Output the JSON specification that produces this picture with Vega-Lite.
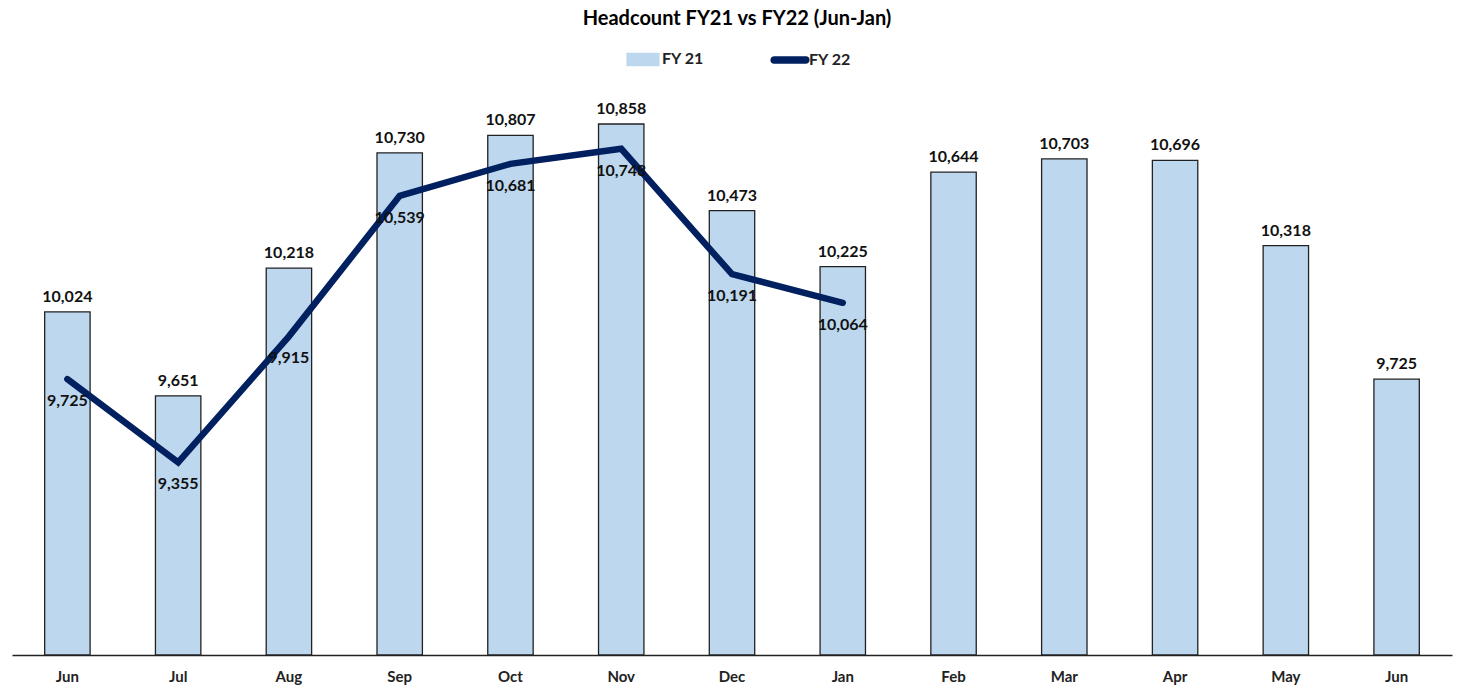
{
  "$schema": "https://vega.github.io/schema/vega-lite/v6.json",
  "width": 1440,
  "height": 563,
  "autosize": {"type": "none"},
  "padding": {"left": 12, "top": 92, "right": 10, "bottom": 33},
  "background": "white",
  "config": {
    "view": {"stroke": null},
    "font": "Lato",
    "legend": {
      "orient": "none",
      "legendX": 614,
      "legendY": -50,
      "direction": "horizontal",
      "symbolSize": 1000,
      "symbolStrokeWidth": 1.5,
      "columnPadding": 64,
      "labelFontSize": 16,
      "labelFontWeight": "bold",
      "labelFont": "Lato",
      "labelColor": "#222222",
      "labelOffset": 2
    }
  },
  "title": {
    "text": "Headcount FY21 vs FY22 (Jun-Jan)",
    "anchor": "middle",
    "fontSize": 20,
    "fontWeight": "bold",
    "color": "#000000",
    "font": "Lato",
    "offset": 13,
    "dx": 5
  },
  "data": {
    "values": [
      {"key": "01 Jun", "fy21": 10024, "fy22": 9725},
      {"key": "02 Jul", "fy21": 9651, "fy22": 9355},
      {"key": "03 Aug", "fy21": 10218, "fy22": 9915},
      {"key": "04 Sep", "fy21": 10730, "fy22": 10539},
      {"key": "05 Oct", "fy21": 10807, "fy22": 10681},
      {"key": "06 Nov", "fy21": 10858, "fy22": 10748},
      {"key": "07 Dec", "fy21": 10473, "fy22": 10191},
      {"key": "08 Jan", "fy21": 10225, "fy22": 10064},
      {"key": "09 Feb", "fy21": 10644, "fy22": null},
      {"key": "10 Mar", "fy21": 10703, "fy22": null},
      {"key": "11 Apr", "fy21": 10696, "fy22": null},
      {"key": "12 May", "fy21": 10318, "fy22": null},
      {"key": "13 Jun", "fy21": 9725, "fy22": null}
    ]
  },
  "encoding": {
    "x": {
      "field": "key",
      "type": "ordinal",
      "sort": null,
      "scale": {"paddingInner": 0.59, "paddingOuter": 0.295},
      "axis": {
        "title": null,
        "labelExpr": "slice(datum.label, 3)",
        "labelAngle": 0,
        "labelFontSize": 15,
        "labelFontWeight": "bold",
        "labelColor": "#222222",
        "labelFont": "Lato",
        "labelPadding": 14,
        "ticks": false,
        "domainColor": "#222222",
        "domainWidth": 1.5
      }
    }
  },
  "layer": [
    {
      "mark": {"type": "bar", "stroke": "#222222", "strokeWidth": 1.3},
      "encoding": {
        "y": {"field": "fy21", "type": "quantitative", "scale": {"domain": [8500, 11000], "zero": false, "nice": false}, "axis": null},
        "y2": {"datum": 8500},
        "color": {
          "datum": "FY 21",
          "scale": {"domain": ["FY 21", "FY 22"], "range": ["#BDD7EE", "#002060"]},
          "legend": {
            "title": null,
            "encode": {
              "symbols": {
                "update": {
                  "shape": {"signal": "datum.value === 'FY 21' ? 'M-1,-0.38H1V0.38H-1Z' : 'M-1,-0.19H1A0.19,0.19 0 0 1 1,0.19H-1A0.19,0.19 0 0 1 -1,-0.19Z'"},
                  "size": {"value": 1000},
                  "strokeWidth": {"value": 1.5},
                  "fill": {"signal": "datum.value === 'FY 21' ? '#BDD7EE' : '#002060'"},
                  "stroke": {"signal": "datum.value === 'FY 21' ? '#222222' : '#002060'"},
                  "opacity": {"value": 1}
                }
              }
            }
          }
        }
      }
    },
    {
      "mark": {"type": "text", "dy": -15, "fontSize": 16, "fontWeight": "bold", "font": "Lato", "color": "#111111"},
      "encoding": {
        "y": {"field": "fy21", "type": "quantitative"},
        "text": {"field": "fy21", "type": "quantitative", "format": ","}
      }
    },
    {
      "transform": [{"filter": "datum.fy22 != null"}],
      "mark": {"type": "line", "strokeWidth": 6.5, "strokeCap": "round", "strokeJoin": "miter"},
      "encoding": {
        "y": {"field": "fy22", "type": "quantitative"},
        "color": {
          "datum": "FY 22",
          "legend": {
            "title": null,
            "encode": {
              "symbols": {
                "update": {
                  "shape": {"signal": "datum.value === 'FY 21' ? 'M-1,-0.38H1V0.38H-1Z' : 'M-1,-0.19H1A0.19,0.19 0 0 1 1,0.19H-1A0.19,0.19 0 0 1 -1,-0.19Z'"},
                  "size": {"value": 1000},
                  "strokeWidth": {"value": 1.5},
                  "fill": {"signal": "datum.value === 'FY 21' ? '#BDD7EE' : '#002060'"},
                  "stroke": {"signal": "datum.value === 'FY 21' ? '#222222' : '#002060'"},
                  "opacity": {"value": 1}
                }
              }
            }
          }
        }
      }
    },
    {
      "transform": [{"filter": "datum.fy22 != null"}],
      "mark": {"type": "text", "dy": 22, "fontSize": 16, "fontWeight": "bold", "font": "Lato", "color": "#111111"},
      "encoding": {
        "y": {"field": "fy22", "type": "quantitative"},
        "text": {"field": "fy22", "type": "quantitative", "format": ","}
      }
    }
  ],
  "resolve": {"scale": {"y": "shared"}}
}
